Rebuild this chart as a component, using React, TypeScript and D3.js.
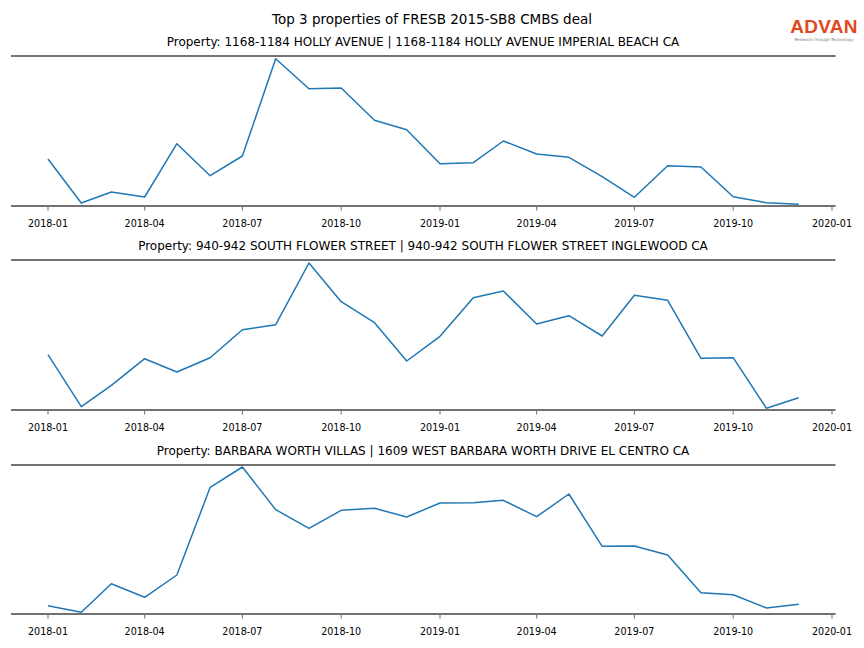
import React from "react";
import * as d3 from "d3";

const months: string[] = [
  "2018-01","2018-02","2018-03","2018-04","2018-05","2018-06","2018-07","2018-08","2018-09","2018-10","2018-11","2018-12",
  "2019-01","2019-02","2019-03","2019-04","2019-05","2019-06","2019-07","2019-08","2019-09","2019-10","2019-11","2019-12",
];

const tickLabels: string[] = ["2018-01","2018-04","2018-07","2018-10","2019-01","2019-04","2019-07","2019-10","2020-01"];

const titles: string[] = [
  "Property: 1168-1184 HOLLY AVENUE | 1168-1184 HOLLY AVENUE IMPERIAL BEACH CA",
  "Property: 940-942 SOUTH FLOWER STREET | 940-942 SOUTH FLOWER STREET INGLEWOOD CA",
  "Property: BARBARA WORTH VILLAS | 1609 WEST BARBARA WORTH DRIVE EL CENTRO CA",
];

const hollyValues: number[] = [47, 3, 14, 9, 62.3, 30.3, 50, 147.3, 117.3, 118, 85.7, 76.3, 42.3, 43.3, 65, 52, 48.7, 29.3, 8.7, 40.3, 39, 9.3, 3.3, 1.7];
const flowerValues: number[] = [55.3, 3.3, 24.7, 51.3, 38, 52.3, 80.3, 85.3, 147, 108.3, 87.3, 49, 73.7, 112.3, 119, 86, 94.3, 74, 114.7, 109.7, 51.7, 52.3, 1.7, 12.3];
const barbaraValues: number[] = [8.3, 1.7, 30.3, 16.7, 39, 126.7, 147, 104.3, 85.7, 103.7, 105.7, 97, 111, 111.3, 113.7, 97.3, 120, 67.7, 68, 59, 21.3, 19.3, 6, 9.7];

const series: number[][] = [hollyValues, flowerValues, barbaraValues];

const W = 864;
const H = 648;
const FONT = "DejaVu Sans, sans-serif";
const parse = d3.utcParse("%Y-%m");

const panels = [
  { top: 56, bottom: 206 },
  { top: 260, bottom: 410 },
  { top: 465, bottom: 614 },
];

const x = d3
  .scaleUtc()
  .domain([parse("2018-01") as Date, parse("2020-01") as Date])
  .range([48, 832]);

const axLeft = 11;
const axRight = 835.5;

function Panel({ idx }: { idx: number }) {
  const { top, bottom } = panels[idx];
  const vals = series[idx];
  const y = d3.scaleLinear().domain([0, bottom - top]).range([bottom, top]);
  const line = d3
    .line<number>()
    .x((_, i) => x(parse(months[i]) as Date))
    .y((v) => y(v));
  return (
    <g>
      <text x={423} y={top - 10} textAnchor="middle" fontSize={12} fontFamily={FONT} fill="#000">
        {titles[idx]}
      </text>
      <line x1={axLeft} x2={axRight} y1={top} y2={top} stroke="#444" strokeWidth={1.6} />
      <path d={line(vals) || ""} fill="none" stroke="#1f77b4" strokeWidth={1.5} strokeLinejoin="round" />
      <line x1={axLeft} x2={axRight} y1={bottom} y2={bottom} stroke="#444" strokeWidth={1.6} />
      {tickLabels.map((t) => {
        const tx = x(parse(t) as Date);
        return (
          <g key={t}>
            <line x1={tx} x2={tx} y1={bottom + 1} y2={bottom + 4.5} stroke="#444" strokeWidth={0.8} />
            <text x={tx} y={bottom + 20.5} textAnchor="middle" fontSize={9.6} fontFamily={FONT} fill="#000">
              {t}
            </text>
          </g>
        );
      })}
    </g>
  );
}

export default function App() {
  return (
    <div style={{ position: "absolute", left: 0, top: 0, width: W, height: H, background: "#fff" }}>
      <svg width={W} height={H} viewBox={`0 0 ${W} ${H}`}>
        <rect x={0} y={0} width={W} height={H} fill="#fff" />
        <text x={432} y={24} textAnchor="middle" fontSize={13.5} fontFamily={FONT} fill="#000">
          Top 3 properties of FRESB 2015-SB8 CMBS deal
        </text>
        <g>
          <text x={824} y={33} textAnchor="middle" fontSize={19} fontWeight="bold" fontFamily="Liberation Sans, Arial, sans-serif" fill="#e2481f" letterSpacing={0.3}>
            ADVAN
          </text>
          <text x={824} y={40.5} textAnchor="middle" fontSize={4} fontFamily={FONT} fill="#777">
            Research through Technology
          </text>
        </g>
        {panels.map((_, i) => (
          <Panel key={i} idx={i} />
        ))}
      </svg>
    </div>
  );
}
